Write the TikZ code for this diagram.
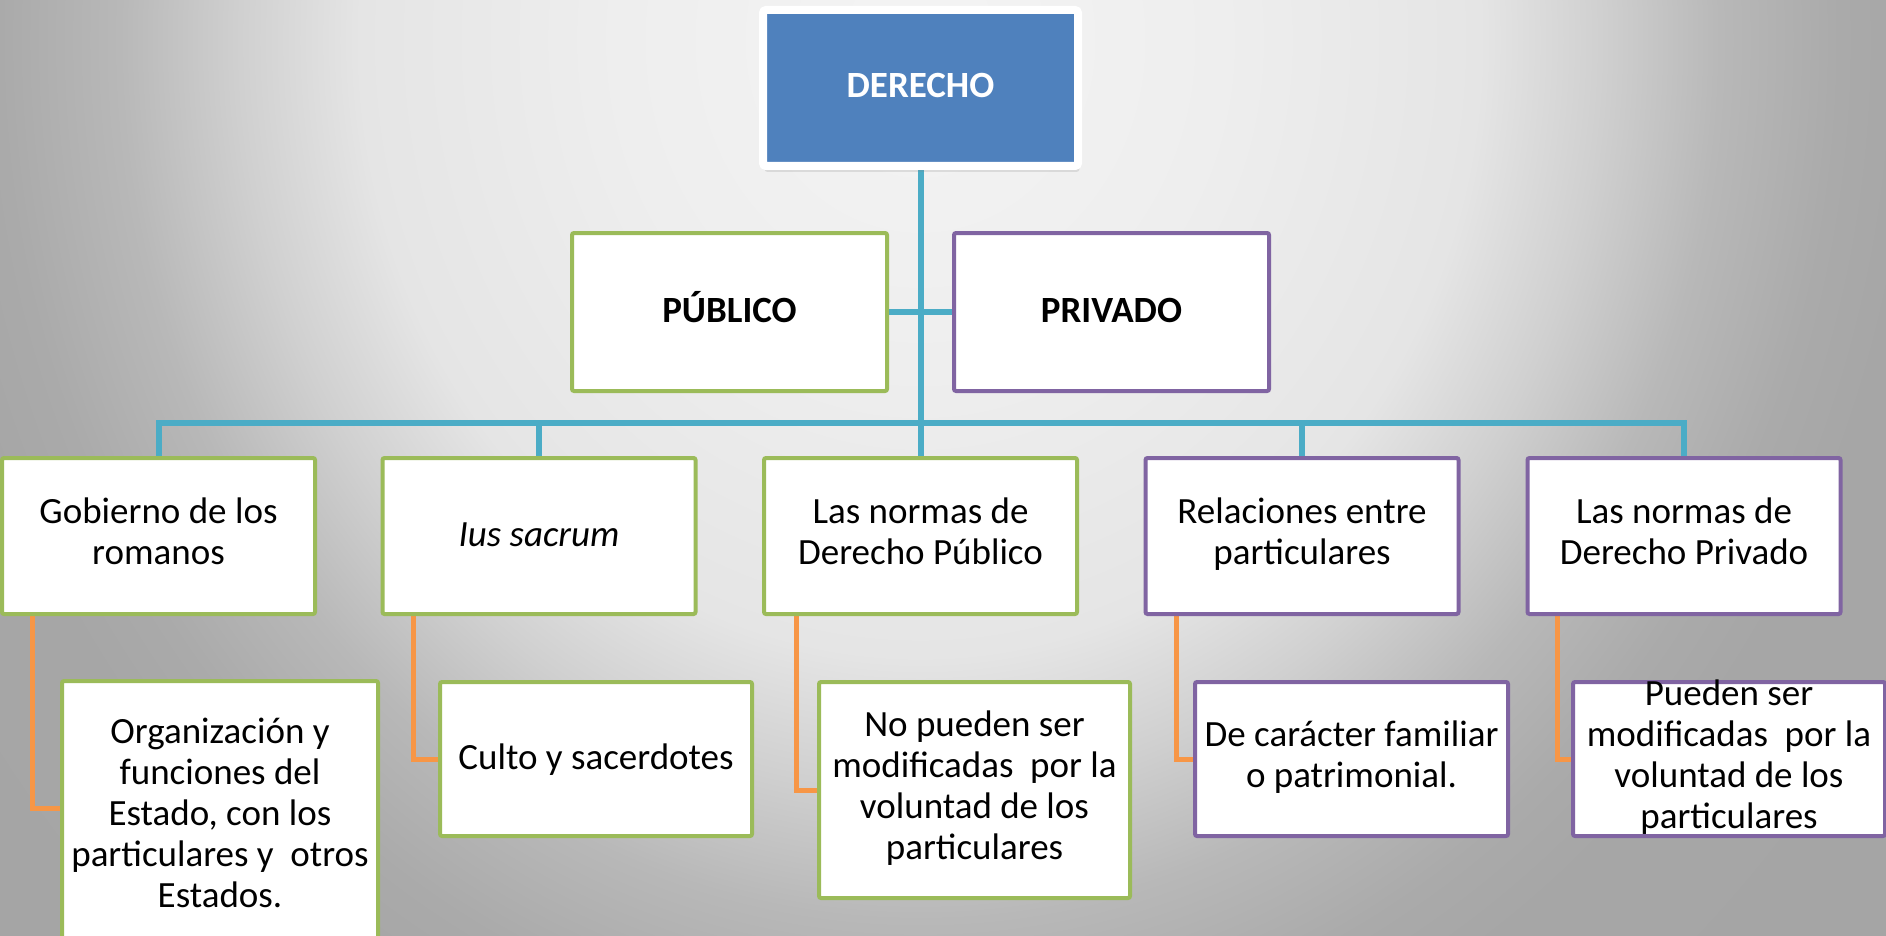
\documentclass[tikz,border=0pt]{standalone}
\usepackage{fontspec}
\setmainfont{Carlito}
\usetikzlibrary{shadows}
\pgfdeclarelayer{bglayer}
\pgfdeclarelayer{connlayer}
\pgfsetlayers{bglayer,connlayer,main}
\definecolor{accBlue}{HTML}{4F81BD}
\definecolor{lineBlue}{HTML}{4BACC6}
\definecolor{accGreen}{HTML}{9BBB59}
\definecolor{accPurple}{HTML}{8064A2}
\definecolor{accOrange}{HTML}{F79646}
\definecolor{bgA}{HTML}{F4F4F4}
\definecolor{bgB}{HTML}{EEEEEE}
\definecolor{bgC}{HTML}{E5E5E5}
\definecolor{bgD}{HTML}{D0D0D0}
\definecolor{bgE}{HTML}{B8B8B8}
\definecolor{bgF}{HTML}{AAAAAA}
\definecolor{bgG}{HTML}{A6A6A6}
\definecolor{bgH}{HTML}{A2A2A2}
\pgfdeclareradialshading{bgshade}{\pgfpoint{0bp}{0bp}}{color(0bp)=(bgA); color(3.75bp)=(bgB); color(7bp)=(bgC); color(8.5bp)=(bgD); color(10bp)=(bgE); color(11.5bp)=(bgF); color(12.5bp)=(bgG); color(25bp)=(bgH); color(50bp)=(bgH)}
\newcommand\mystrut{\rule[-10pt]{0pt}{40pt}}
\begin{document}
\begin{tikzpicture}[x=1pt,y=-1pt,
  txt/.style={font=\fontsize{37}{41}\selectfont, align=center, text=black,
              execute at begin node=\mystrut, execute at end node=\mystrut},
  gbox/.style={txt, draw=accGreen, line width=4pt, fill=white, rounded corners=2pt, inner sep=2pt},
  pbox/.style={gbox, draw=accPurple},
  boldtxt/.style={font=\bfseries\fontsize{37}{41}\selectfont},
  rowtwo/.style={minimum width=313pt, minimum height=156pt},
  rowthree/.style={minimum width=312pt, minimum height=154pt},
  bl/.style={draw=lineBlue, line width=6pt},
  orl/.style={draw=accOrange, line width=5pt}
]
\useasboundingbox (0,0) rectangle (1886,936);

\begin{pgfonlayer}{bglayer}
\begin{scope}
\clip (0,0) rectangle (1886,936);
\fill[bgH] (0,0) rectangle (1886,936);
\shade[shading=bgshade] (920,40) ellipse (2000 and 2200);
\end{scope}
\end{pgfonlayer}

\begin{scope}
\clip (0,0) rectangle (1886,936);
% top node
\node[txt, draw=white, line width=8pt, fill=accBlue, minimum width=315pt, minimum height=156pt,
      rounded corners=3pt, drop shadow={shadow xshift=1.5pt, shadow yshift=-6pt, opacity=0.2},
      boldtxt, text=white] (der) at (920.5,88) {DERECHO};

% level 1
\node[gbox, boldtxt, minimum width=315pt, minimum height=158pt] (pub) at (729.5,312) {PÚBLICO};
\node[pbox, boldtxt, minimum width=315pt, minimum height=158pt] (priv) at (1111.5,312) {PRIVADO};

% level 2
\node[gbox, rowtwo] (r1) at (158.5,536) {Gobierno de los\\romanos};
\node[gbox, rowtwo] (r2) at (539,536) {\textit{Ius sacrum}};
\node[gbox, rowtwo] (r3) at (920.5,536) {Las normas de\\Derecho Público};
\node[pbox, rowtwo] (r4) at (1302,536) {Relaciones entre\\particulares};
\node[pbox, rowtwo] (r5) at (1684,536) {Las normas de\\Derecho Privado};

% level 3
\node[gbox, minimum width=316pt, minimum height=274pt] (s1) at (220,818) {Organización y\\funciones del\\Estado, con los\\particulares y\ \ otros\\Estados.};
\node[gbox, rowthree] (s2) at (596,759) {Culto y sacerdotes};
\node[gbox, minimum width=311pt, minimum height=216pt] (s3) at (974.5,790) {No pueden ser\\modificadas\ \ por la\\voluntad de los\\particulares};
\node[pbox, rowthree, minimum width=313pt] (s4) at (1351.5,759) {De carácter familiar\\o patrimonial.};
\node[pbox, rowthree] (s5) at (1729,759) {};
\node[txt] (s5t) at (s5.center) {Pueden ser\\modificadas\ \ por la\\voluntad de los\\particulares};
\end{scope}

\coordinate (bar) at (920.5,423);

\begin{pgfonlayer}{connlayer}
\draw[bl] (der.south) -- (r3.north);
\draw[bl] (pub.east) -- (priv.west);
\draw[bl] (r1.north) -- (r1.north |- bar) -- (r5.north |- bar) -- (r5.north);
\draw[bl] (r2.north) -- (r2.north |- bar);
\draw[bl] (r4.north) -- (r4.north |- bar);
\draw[orl] ([xshift=32pt]r1.south west) |- ([yshift=10pt]s1.west);
\draw[orl] ([xshift=33pt]r2.south west) |- (s2.west);
\draw[orl] ([xshift=34pt]r3.south west) |- (s3.west);
\draw[orl] ([xshift=33pt]r4.south west) |- (s4.west);
\draw[orl] ([xshift=32pt]r5.south west) |- (s5.west);
\end{pgfonlayer}
\end{tikzpicture}
\end{document}
